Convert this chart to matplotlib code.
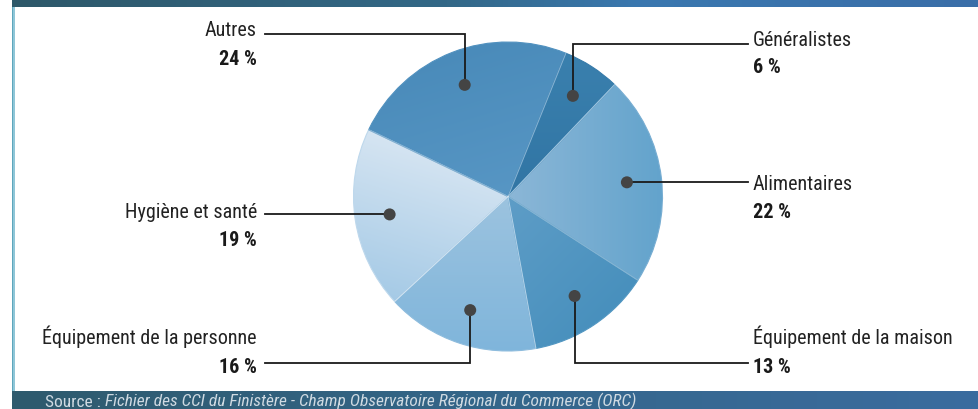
import numpy as np
import matplotlib
matplotlib.use("Agg")
import matplotlib.pyplot as plt
from matplotlib import font_manager
from matplotlib.colors import to_rgb
from matplotlib.patches import Rectangle, Circle

# Donnees : repartition par type de commerce (%)
categories = ["Généralistes", "Alimentaires", "Équipement de la maison",
              "Équipement de la personne", "Hygiène et santé", "Autres"]
shares = [6, 22, 13, 16, 19, 24]
pct_labels = ["6 %", "22 %", "13 %", "16 %", "19 %", "24 %"]
source_text = "Fichier des CCI du Finistère - Champ Observatoire Régional du Commerce (ORC)"

# Couleurs (debut, fin, direction du degrade en pixels ecran)
grad_start = ["#3a80ae", "#8cb7d7", "#5e9dc7", "#9cc3df", "#d6e5f2", "#5796c4"]
grad_end = ["#3175a4", "#62a3cc", "#4890bd", "#7fb5db", "#a5cae6", "#4a8bba"]
grad_dir = [(0, 1), (1, 0), (1, 1), (0, 1), (-0.3, 1), (-0.3, -1)]

# Mise en page des etiquettes : cote, niveau du trait, type de renvoi
label_side = ["right", "right", "right", "left", "left", "left"]
leader_y = [44.5, None, 364, 364, None, 34.5]
name_base = [46, 190, 344, 344, 218, 36]
pct_gap = [27, 28, 29, 29, 28, 29]

W, H = 979, 410
CX, CY, R = 508, 197.5, 154.5
LEFT_X, RIGHT_X = 257, 753

# police etroite si disponible
installed = {f.name for f in font_manager.fontManager.ttflist}
family = "DejaVu Sans"
for cand in ["Roboto Condensed", "Liberation Sans Narrow", "DejaVu Sans Condensed",
             "Open Sans Condensed", "Noto Sans Condensed", "Roboto", "Lato"]:
    if cand in installed:
        family = cand
        break
plt.rcParams["font.family"] = [family, "DejaVu Sans"]

fig = plt.figure(figsize=(W / 100, H / 100), dpi=100)
ax = fig.add_axes([0, 0, 1, 1])
renderer = fig.canvas.get_renderer()


def fit_size(text, target_px, max_size, **kw):
    t = fig.text(0, 0, text, fontsize=10, **kw)
    w = t.get_window_extent(renderer).width
    t.remove()
    return min(max_size, 10 * target_px / w)


label_fs = fit_size("Équipement de la personne", 214, 16)
source_fs = fit_size("Source : " + source_text, 640, 12.5, style="italic")


def hgrad(stops, n=400):
    pos = np.array([s[0] for s in stops])
    cols = np.array([to_rgb(s[1]) for s in stops])
    x = np.linspace(0, 1, n)
    return np.stack([np.interp(x, pos, cols[:, k]) for k in range(3)], axis=-1)[None, :, :]


# bandeaux haut et bas
top = hgrad([(0, "#2e5869"), (0.45, "#336887"), (0.65, "#3a78b0"), (1, "#3a6ea8")])
ax.imshow(top, extent=(12, W, 8, 0), origin="upper", aspect="auto", zorder=1)
bot = hgrad([(0, "#2e5a6d"), (0.5, "#34668a"), (1, "#3b6c9f")])
ax.imshow(bot, extent=(12, W, H, 392), origin="upper", aspect="auto", zorder=1)
ax.add_patch(Rectangle((12, 8), 3, 384, facecolor="#8fc6d7", edgecolor="none", zorder=1))
ax.add_patch(Rectangle((12, 8), 0.8, 384, facecolor="#5ea6bc", edgecolor="none", zorder=1))

# camembert (axe y inverse -> sens horaire a l'ecran)
wedges, _ = ax.pie(shares, colors=grad_end, startangle=-68, counterclock=True,
                   center=(CX, CY), radius=R, wedgeprops=dict(linewidth=0))

xs = np.arange(CX - R, CX + R + 1)
ys = np.arange(CY - R, CY + R + 1)
X, Y = np.meshgrid(xs, ys)
for w, c0, c1, d in zip(wedges, grad_start, grad_end, grad_dir):
    d = np.array(d, float)
    d /= np.linalg.norm(d)
    proj = (X - CX) * d[0] + (Y - CY) * d[1]
    v = w.get_path().vertices
    pv = (v[:, 0] - CX) * d[0] + (v[:, 1] - CY) * d[1]
    t = np.clip((proj - pv.min()) / (pv.max() - pv.min()), 0, 1)[..., None]
    img = np.array(to_rgb(c0)) * (1 - t) + np.array(to_rgb(c1)) * t
    im = ax.imshow(img, extent=(xs[0], xs[-1], ys[-1], ys[0]), origin="upper",
                   interpolation="bilinear", zorder=2)
    im.set_clip_path(w)
    mid = tuple((np.array(to_rgb(c0)) + np.array(to_rgb(c1))) / 2)
    w.set_edgecolor(mid)
    w.set_linewidth(0.8)
    w.set_zorder(3)
    w.set_facecolor("none")

# separations claires entre les parts
for w in wedges:
    a = np.deg2rad(w.theta1)
    ax.plot([CX, CX + R * np.cos(a)], [CY, CY + R * np.sin(a)],
            color="white", alpha=0.3, linewidth=0.7, zorder=3)

# points, renvois et etiquettes
for i, w in enumerate(wedges):
    a = np.deg2rad((w.theta1 + w.theta2) / 2)
    px = CX + 0.775 * R * np.cos(a)
    py = CY + 0.775 * R * np.sin(a)
    ax.add_patch(Circle((px, py), 6, facecolor="#444444", edgecolor="none", zorder=5))

    if label_side[i] == "right":
        tx, ha, lx = RIGHT_X, "left", RIGHT_X - 5
    else:
        tx, ha, lx = LEFT_X, "right", LEFT_X + 8
    if leader_y[i] is None:
        xs_l, ys_l = [px, lx], [py, py]
    else:
        xs_l, ys_l = [px, px, lx], [py, leader_y[i], leader_y[i]]
    ax.plot(xs_l, ys_l, color="#1a1a1a", linewidth=1.3, zorder=4,
            solid_joinstyle="miter")

    ax.text(tx, name_base[i], categories[i], ha=ha, va="baseline",
            fontsize=label_fs, color="#222222")
    ax.text(tx, name_base[i] + pct_gap[i], pct_labels[i], ha=ha, va="baseline",
            fontsize=label_fs, fontweight="bold", color="#1a1a1a")

# source
t1 = ax.text(45, 407, "Source : ", ha="left", va="baseline", fontsize=source_fs,
             color="#cfdae2", zorder=6)
ax.annotate(source_text, xy=(1, 0), xycoords=t1, ha="left", va="bottom",
            fontsize=source_fs, style="italic", color="#cfdae2", zorder=6)

ax.set_xlim(0, W)
ax.set_ylim(H, 0)
ax.set_aspect("auto")
ax.axis("off")

fig.savefig("out.png", dpi=100)
